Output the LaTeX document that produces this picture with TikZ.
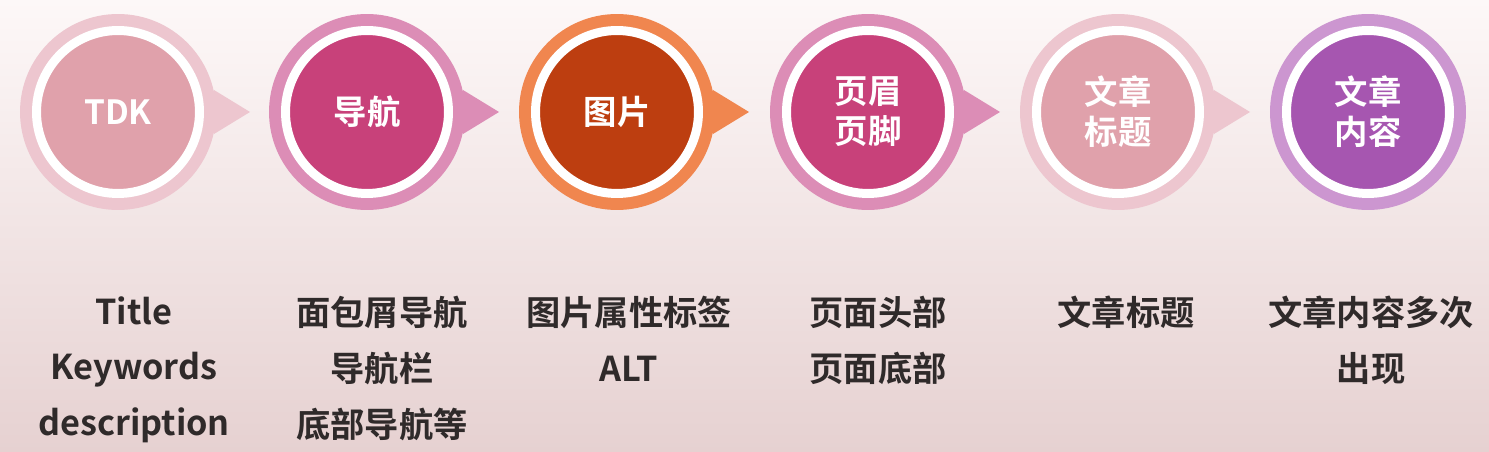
\documentclass[tikz,border=0pt]{standalone}
\usepackage{fontspec}
\setmainfont{Noto Sans CJK SC}[BoldFont={Noto Sans CJK SC Bold}]
\usetikzlibrary{positioning}

\definecolor{paleout}{HTML}{EDC6CF}
\definecolor{palein}{HTML}{E0A1AB}
\definecolor{roseout}{HTML}{DC8DB6}
\definecolor{rosein}{HTML}{C8417A}
\definecolor{orangeout}{HTML}{F0864F}
\definecolor{orangein}{HTML}{BD3E10}
\definecolor{violetout}{HTML}{CC96D0}
\definecolor{violetin}{HTML}{A656B0}
\definecolor{labeltext}{HTML}{2F2A2A}
\definecolor{bgtop}{HTML}{FDF8F8}
\definecolor{bgmid}{HTML}{F8EDEC}
\definecolor{bgbottom}{HTML}{E6D1D1}

\begin{document}
\begin{tikzpicture}[x=0.02cm,y=-0.02cm,
  ring/.style={circle, minimum size=3.92cm, inner sep=0pt},
  core/.style={circle, minimum size=3.26cm, inner sep=0pt, draw=white,
    line width=0.18cm, text=white, align=center,
    font=\fontsize{19}{22.7}\selectfont\bfseries},
  caption/.style={anchor=north, align=center, inner sep=0pt, text=labeltext,
    font=\fontsize{19.5}{31.7}\selectfont\bfseries}]
\useasboundingbox (0,0) rectangle (1489,452);
\shade[top color=bgtop, middle color=bgmid, bottom color=bgbottom] (0,0) rectangle (1489,452);

% outer rings with their pointers
\node[ring, fill=paleout] (r1) at (118,112) {};
\coordinate (t1) at (250,112);
\fill[paleout] (r1.13) -- (t1) -- (r1.-13) -- cycle;
\node[ring, fill=roseout] (r2) at (367,112) {};
\coordinate (t2) at (499,112);
\fill[roseout] (r2.13) -- (t2) -- (r2.-13) -- cycle;
\node[ring, fill=orangeout] (r3) at (617,112) {};
\coordinate (t3) at (749,112);
\fill[orangeout] (r3.13) -- (t3) -- (r3.-13) -- cycle;
\node[ring, fill=roseout] (r4) at (868,112) {};
\coordinate (t4) at (1000,112);
\fill[roseout] (r4.13) -- (t4) -- (r4.-13) -- cycle;
\node[ring, fill=paleout] (r5) at (1118,112) {};
\coordinate (t5) at (1250,112);
\fill[paleout] (r5.13) -- (t5) -- (r5.-13) -- cycle;
\node[ring, fill=violetout] (r6) at (1368,112) {};

% inner discs
\node[core, fill=palein] (c1) at (r1) {TDK};
\node[core, fill=rosein] (c2) at (r2) {导航};
\node[core, fill=orangein] (c3) at (r3) {图片};
\node[core, fill=rosein] (c4) at (r4) {页眉\\页脚};
\node[core, fill=palein] (c5) at (r5) {文章\\标题};
\node[core, fill=violetin] (c6) at (r6) {文章\\内容};

% captions below
\node[caption] (l1) at (134,296) {Title\\Keywords\\description};
\node[caption] (l2) at (382,296) {面包屑导航\\导航栏\\底部导航等};
\node[caption] (l3) at (629,296) {图片属性标签\\ALT};
\node[caption] (l4) at (878,296) {页面头部\\页面底部};
\node[caption] (l5) at (1126,296) {文章标题};
\node[caption] (l6) at (1371,296) {文章内容多次\\出现};
\end{tikzpicture}
\end{document}
